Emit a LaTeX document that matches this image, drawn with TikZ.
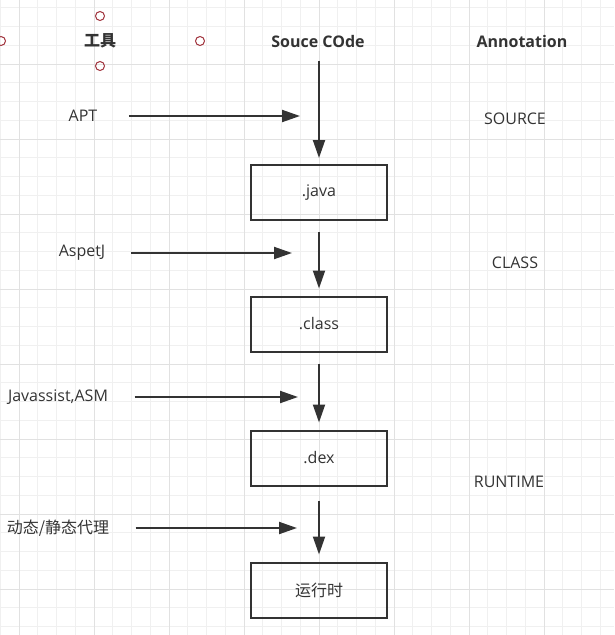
\documentclass[tikz,border=0pt]{standalone}
\usepackage{fontspec}
\setmainfont{Open Sans}
\newfontfamily\cjk{Noto Sans CJK SC}
\usetikzlibrary{arrows.meta, positioning}
\definecolor{inkgray}{RGB}{51, 51, 51}
\definecolor{gridminor}{RGB}{240, 240, 240}
\definecolor{gridmajor}{RGB}{225, 225, 225}
\definecolor{handlered}{RGB}{160, 50, 60}

\begin{document}
\begin{tikzpicture}[x=1pt, y=-1pt,
  stage/.style={draw=inkgray, line width=2pt, minimum width=136pt, minimum height=55pt, text=inkgray, font=\fontsize{16}{19}\selectfont},
  heading/.style={text=inkgray, font=\fontsize{16}{19}\selectfont\bfseries},
  tooltext/.style={text=inkgray, font=\fontsize{16}{19}\selectfont},
  flow/.style={-{Triangle[length=18pt, width=12pt]}, line width=2pt, draw=inkgray},
  handle/.style={draw=handlered, line width=1pt, circle, minimum size=9pt, inner sep=0pt}]
  \useasboundingbox (0,0) rectangle (614,635);

  % Grid
  \foreach \k in {0,...,32}
    \draw[gridminor, line width=1pt] (0.25+18.75*\k, 0) -- (0.25+18.75*\k, 635);
  \foreach \k in {0,...,33}
    \draw[gridminor, line width=1pt] (0, 7.75+18.75*\k) -- (614, 7.75+18.75*\k);
  \foreach \k in {0,...,7}
    \draw[gridmajor, line width=1pt] (19+75*\k, 0) -- (19+75*\k, 635);
  \foreach \k in {0,...,7}
    \draw[gridmajor, line width=1pt] (0, 64+75*\k) -- (614, 64+75*\k);

  % Headings
  \node[heading] (tools) at (100, 41) {\cjk 工具};
  \node[heading] (code) at (318, 41) {Souce COde};
  \node[heading] (anno) at (522, 41) {Annotation};

  % Selection handles
  \node[handle] (htop) at (100, 16) {};
  \node[handle] (hleft) at (1, 41) {};
  \node[handle] (hright) at (200, 41) {};
  \node[handle] (hbottom) at (100, 66) {};

  % Stages
  \node[stage] (java) at (319, 192.5) {.java};
  \node[stage] (class) at (319, 324) {.class};
  \node[stage] (dex) at (319, 458) {.dex};
  \node[stage] (run) at (319, 590) {\cjk 运行时};

  \draw[flow, shorten <=10pt, shorten >=6pt] (code.south -| java.north) -- (java.north);
  \draw[flow, shorten <=11pt, shorten >=7pt] (java) -- (class);
  \draw[flow, shorten <=11pt, shorten >=7pt] (class) -- (dex);
  \draw[flow, shorten <=14pt, shorten >=7pt] (dex) -- (run);

  % Tools
  \node[tooltext] (apt) at (83, 116) {APT};
  \node[tooltext] (aspectj) at (82, 253) {AspetJ};
  \node[tooltext] (bytecode) at (58, 397) {Javassist,ASM};
  \node[tooltext] (proxy) at (58, 528) {\cjk 动态/静态代理};

  \coordinate (aptin) at (300, 116);
  \coordinate (aspectjin) at (292, 253);
  \coordinate (bytecodein) at (298, 397);
  \coordinate (proxyin) at (297, 528);

  \draw[flow] (apt.east) ++(28,0) -- (aptin);
  \draw[flow] (aspectj.east) ++(22,0) -- (aspectjin);
  \draw[flow] (bytecode.east) ++(23,0) -- (bytecodein);
  \draw[flow] (proxy.east) ++(23,0) -- (proxyin);

  % Retention levels
  \node[tooltext] (source) at (515, 119) {SOURCE};
  \node[tooltext] (classlvl) at (515, 263) {CLASS};
  \node[tooltext] (runtime) at (509, 482) {RUNTIME};
\end{tikzpicture}
\end{document}
